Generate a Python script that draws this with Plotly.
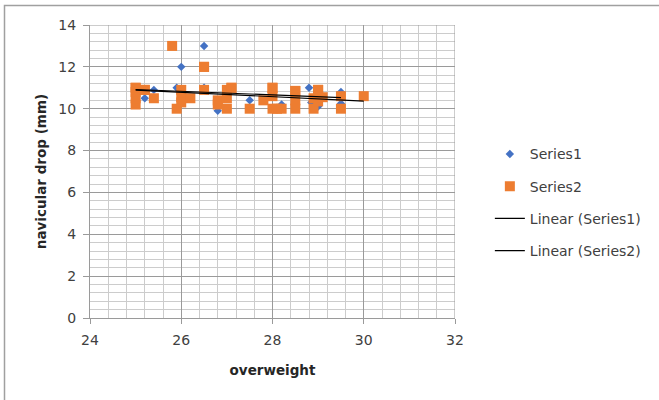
import numpy as np
import plotly.graph_objects as go

# ---- data (some points overlap and are estimated) ----
series1_x = [25.0, 25.0, 25.0, 25.2, 25.4, 25.9, 26.0, 26.0, 26.0, 26.5, 26.5, 26.8,
             27.0, 27.1, 27.5, 28.0, 28.2, 28.5, 28.8, 28.85, 29.0, 29.0, 29.5, 29.5]
series1_y = [10.9, 10.5, 10.2, 10.5, 10.9, 11.0, 12.0, 10.9, 10.3, 13.0, 11.0, 9.9,
             10.5, 11.0, 10.4, 10.6, 10.2, 10.85, 11.0, 10.3, 10.1, 10.6, 10.8, 10.25]

series2_x = [25.0, 25.0, 25.0, 25.0, 25.0, 25.2, 25.2, 25.4, 25.8, 25.9, 26.0, 26.0,
             26.0, 26.2, 26.5, 26.5, 26.5, 26.8, 26.8, 27.0, 27.0, 27.0, 27.1, 27.1,
             27.5, 27.8, 28.0, 28.0, 28.0, 28.0, 28.1, 28.2, 28.5, 28.5, 28.5, 28.5,
             28.9, 28.9, 29.0, 29.0, 29.0, 29.0, 29.1, 29.5, 29.5, 30.0]
series2_y = [10.2, 10.5, 10.8, 11.0, 11.0, 10.9, 10.9, 10.5, 13.0, 10.0, 10.9, 10.55,
             10.3, 10.5, 12.0, 12.0, 10.9, 10.2, 10.4, 10.9, 10.5, 10.0, 11.0, 11.0,
             10.0, 10.4, 11.0, 11.0, 10.6, 10.0, 10.0, 10.0, 10.85, 10.85, 10.4, 10.0,
             10.0, 10.5, 10.9, 10.9, 10.6, 10.35, 10.55, 10.6, 10.0, 10.6]

series_names = ["Series1", "Series2"]
trend_names = ["Linear (Series1)", "Linear (Series2)"]
x_title = "overweight"
y_title = "navicular drop (mm)"
x_ticks = [24, 26, 28, 30, 32]
y_ticks = [0, 2, 4, 6, 8, 10, 12, 14]

BLUE = "#4472C4"
ORANGE = "#ED7D31"
FONT = "DejaVu Sans"
TXT = "#404040"
MAJOR = "#9a9a9a"
MINOR = "#cccccc"


def linear_fit(xs, ys):
    xs = np.asarray(xs, float)
    ys = np.asarray(ys, float)
    m, b = np.polyfit(xs, ys, 1)
    xx = np.array([xs.min(), xs.max()])
    return xx, m * xx + b


fig = go.Figure()
fig.add_trace(go.Scatter(
    x=series1_x, y=series1_y, mode="markers", name=series_names[0],
    marker=dict(symbol="diamond", size=6.5, color=BLUE, line=dict(width=0)),
    legendgroup="a"))
fig.add_trace(go.Scatter(
    x=series2_x, y=series2_y, mode="markers", name=series_names[1],
    marker=dict(symbol="square", size=10, color=ORANGE, line=dict(width=0)),
    legendgroup="b"))
tx1, ty1 = linear_fit(series1_x, series1_y)
tx2, ty2 = linear_fit(series2_x, series2_y)
fig.add_trace(go.Scatter(x=tx1, y=ty1, mode="lines", name=trend_names[0],
                         line=dict(color="black", width=1.2), legendgroup="c"))
fig.add_trace(go.Scatter(x=tx2, y=ty2, mode="lines", name=trend_names[1],
                         line=dict(color="black", width=1.2), legendgroup="d"))

fig.update_layout(
    width=659, height=400,
    margin=dict(l=90, r=204, t=25, b=82),
    paper_bgcolor="white", plot_bgcolor="white",
    font=dict(family=FONT, size=14, color=TXT),
    showlegend=True,
    legend=dict(x=1.0955, xanchor="left", y=0.613, yanchor="top",
                font=dict(family=FONT, size=14, color=TXT),
                tracegroupgap=11, bgcolor="rgba(0,0,0,0)",
                itemsizing="trace"),
    xaxis=dict(range=[24, 32], tickvals=x_ticks, ticktext=[str(v) for v in x_ticks],
               showgrid=True, gridcolor=MAJOR, gridwidth=1,
               minor=dict(dtick=0.4, showgrid=True, gridcolor=MINOR, gridwidth=1, ticks=""),
               showline=True, linecolor=MAJOR, linewidth=1,
               ticks="outside", ticklen=5, tickcolor=MAJOR,
               tickfont=dict(family=FONT, size=14, color=TXT),
               ticklabelstandoff=4,
               zeroline=False, automargin=False,
               title=dict(text=x_title, font=dict(family=FONT, size=13.5, color="#262626", weight="bold"),
                          standoff=18)),
    yaxis=dict(range=[0, 14], tickvals=y_ticks, ticktext=[str(v) for v in y_ticks],
               showgrid=True, gridcolor=MAJOR, gridwidth=1,
               minor=dict(dtick=0.4, showgrid=True, gridcolor=MINOR, gridwidth=1, ticks=""),
               showline=True, linecolor=MAJOR, linewidth=1,
               ticks="outside", ticklen=6, tickcolor=MAJOR,
               tickfont=dict(family=FONT, size=14, color=TXT),
               ticklabelstandoff=4,
               zeroline=False, automargin=False,
               title=dict(text=y_title, font=dict(family=FONT, size=13.5, color="#262626", weight="bold"),
                          standoff=8)),
)

# right / top edges of the plot area (major gridline look)
fig.add_shape(type="line", xref="x", yref="paper", x0=32, x1=32, y0=0, y1=1,
              line=dict(color=MAJOR, width=1))
fig.add_shape(type="line", xref="paper", yref="y", x0=0, x1=1, y0=14, y1=14,
              line=dict(color=MAJOR, width=1))

# outer chart-area border (top and left visible in the reference)
px_w, px_h = 365.0, 293.0
fig.add_shape(type="rect", xref="paper", yref="paper",
              x0=(4.5 - 90) / px_w, x1=(720 - 90) / px_w,
              y0=(318 - 460) / px_h, y1=(318 - 5.5) / px_h,
              line=dict(color="#a0a0a0", width=1.5), fillcolor="rgba(0,0,0,0)", layer="below")

fig.write_html("out.html")
